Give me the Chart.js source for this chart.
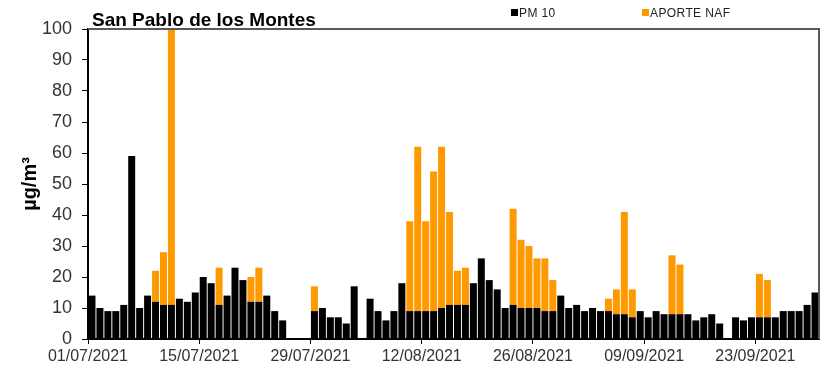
<!DOCTYPE html>
<html>
<head>
<meta charset="utf-8">
<title>San Pablo de los Montes</title>
<script src="https://cdn.jsdelivr.net/npm/chart.js@4"></script>
<style>
  html, body { margin: 0; padding: 0; background: #fff; }
  #wrap { position: relative; width: 820px; height: 372px; }
</style>
</head>
<body>
<div id="wrap"><canvas id="pm10Chart"></canvas></div>
<script>
// ===== DATA (daily, 01/07/2021 - 30/09/2021) =====
const STATION = 'San Pablo de los Montes';
const FIRST_DAY = new Date(2021, 6, 1);
const DAY_COUNT = 92;
const TICK_EVERY = 14;
const tickLabels = ['01/07/2021', '15/07/2021', '29/07/2021', '12/08/2021', '26/08/2021', '09/09/2021', '23/09/2021'];

// PM10 without the natural (NAF) contribution, µg/m³
const pm10 = [
  14, 10, 9, 9, 11, 59, 10, 14, 12, 11, 11, 13, 12, 15, 20, 18, 11, 14, 23, 19, 12, 12, 14, 9, 6,
  null, null, null, 9, 10, 7, 7, 5, 17, null,
  13, 9, 6, 9, 18, 9, 9, 9, 9, 10, 11, 11, 11, 18, 26, 19, 16, 10, 11, 10, 10, 10, 9, 9, 14, 10, 11,
  9, 10, 9, 9, 8, 8, 7, 9, 7, 9, 8, 8, 8, 8, 6, 7, 8, 5, null,
  7, 6, 7, 7, 7, 7, 9, 9, 9, 11, 15,
];

// natural contribution stacked on top, µg/m³
const aporteNaf = [
  null, null, null, null, null, null, null, null, 10, 17, 89, null, null, null, null, null, 12, null, null, null, 8, 11, null, null, null,
  null, null, null, 8, null, null, null, null, null, null,
  null, null, null, null, null, 29, 53, 29, 45, 52, 30, 11, 12, null, null, null, null, null, 31, 22, 20, 16, 17, 10, null, null, null,
  null, null, null, 4, 8, 33, 9, null, null, null, null, 19, 16, null, null, null, null, null, null,
  null, null, null, 14, 12, null, null, null, null, null, null,
];

const COLORS = {
  pm10: '#000000',
  naf: '#ff9900',
  text: '#333333',
  frame: '#595959',
};
const FONT = '"Liberation Sans", Arial, sans-serif';

const pad = (n) => String(n).padStart(2, '0');
const dayLabels = [];
for (let i = 0; i < DAY_COUNT; i++) {
  const d = new Date(FIRST_DAY.getFullYear(), FIRST_DAY.getMonth(), FIRST_DAY.getDate() + i);
  dayLabels.push(`${pad(d.getDate())}/${pad(d.getMonth() + 1)}/${d.getFullYear()}`);
}

// ===== TITLE, LEGEND AND FRAME =====
const decorations = {
  id: 'decorations',
  afterDraw(chart) {
    const { ctx, chartArea: a } = chart;
    ctx.save();

    // top and right frame of the plot area
    ctx.strokeStyle = COLORS.frame;
    ctx.lineWidth = 2;
    ctx.beginPath();
    ctx.moveTo(a.left, a.top);
    ctx.lineTo(a.right, a.top);
    ctx.lineTo(a.right, a.bottom);
    ctx.stroke();

    ctx.fillStyle = '#000';
    ctx.font = `bold 19px ${FONT}`;
    ctx.textBaseline = 'alphabetic';
    ctx.fillText(STATION, 92, 26);

    ctx.font = `12px ${FONT}`;
    ctx.letterSpacing = '0.4px';
    const items = [
      { label: 'PM 10', color: COLORS.pm10, x: 511 },
      { label: 'APORTE NAF', color: COLORS.naf, x: 642 },
    ];
    items.forEach((it) => {
      ctx.fillStyle = it.color;
      ctx.fillRect(it.x, 9, 7, 7);
      ctx.fillStyle = '#222';
      ctx.fillText(it.label, it.x + 8, 17);
    });
    ctx.restore();
  },
};

new Chart(document.getElementById('pm10Chart'), {
  type: 'bar',
  data: {
    labels: dayLabels,
    datasets: [
      { label: 'PM 10', data: pm10, backgroundColor: COLORS.pm10 },
      { label: 'APORTE NAF', data: aporteNaf, backgroundColor: COLORS.naf },
    ],
  },
  options: {
    responsive: true,
    maintainAspectRatio: false,
    animation: false,
    layout: { padding: { top: 29, right: 1, left: 0, bottom: 0 } },
    datasets: { bar: { barPercentage: 0.88, categoryPercentage: 1 } },
    plugins: { legend: { display: false }, tooltip: { enabled: false } },
    scales: {
      x: {
        stacked: true,
        offset: true,
        afterFit: (s) => { s.height = 33; },
        border: { color: '#000', width: 2 },
        grid: {
          offset: true,
          drawOnChartArea: false,
          tickLength: 5,
          color: (c) => (c.index % TICK_EVERY === 0 ? '#000' : 'rgba(0,0,0,0)'),
        },
        ticks: {
          autoSkip: false,
          maxRotation: 0,
          labelOffset: -4,
          padding: 3,
          color: COLORS.text,
          font: { family: FONT, size: 16 },
          callback: (v, i) => (i % TICK_EVERY === 0 ? tickLabels[i / TICK_EVERY] : ''),
        },
      },
      y: {
        stacked: true,
        min: 0,
        max: 100,
        afterFit: (s) => { s.width = 88; },
        border: { color: '#000', width: 2 },
        grid: { drawOnChartArea: false, tickLength: 6, color: '#000' },
        ticks: {
          stepSize: 10,
          padding: 10,
          color: COLORS.text,
          font: { family: FONT, size: 18 },
        },
        title: {
          display: true,
          text: 'µg/m³',
          color: '#000',
          font: { family: FONT, size: 20, weight: 'bold' },
          padding: { top: 18, bottom: 0 },
        },
      },
    },
  },
  plugins: [decorations],
});
</script>
</body>
</html>
